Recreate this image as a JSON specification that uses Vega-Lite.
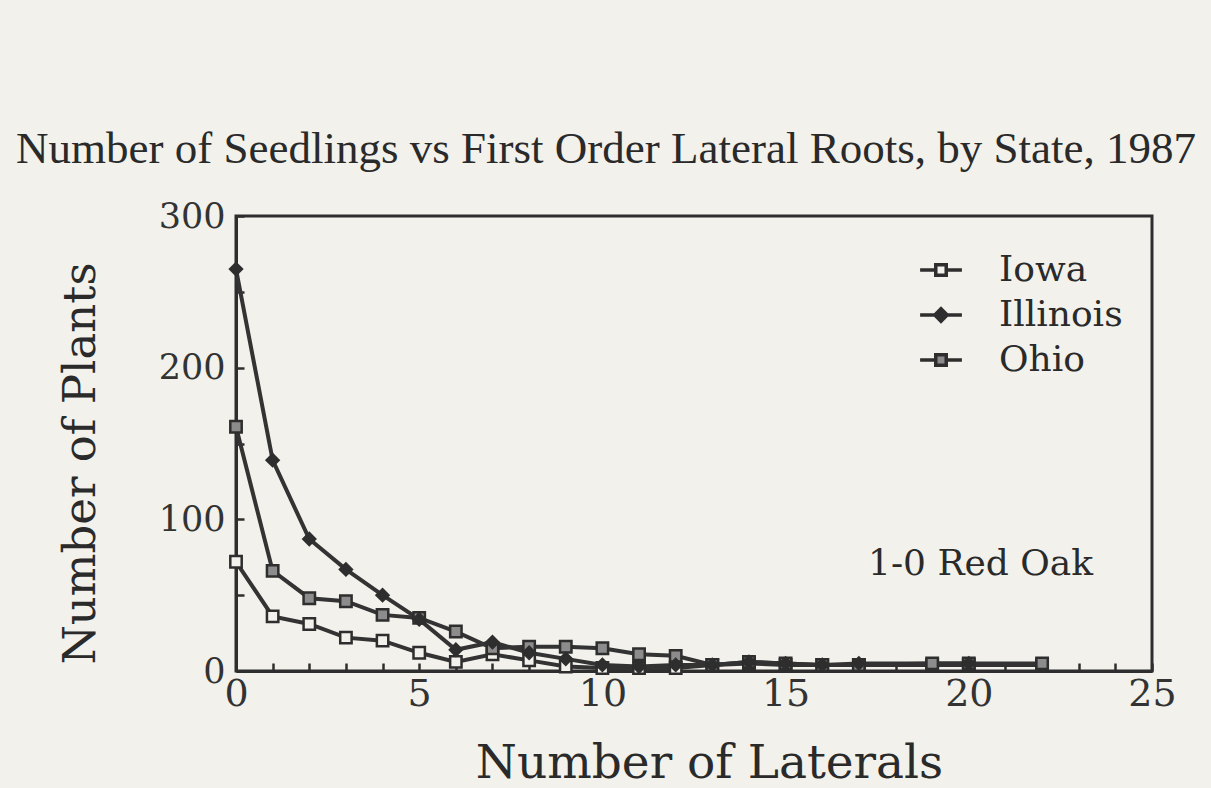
{
  "$schema": "https://vega.github.io/schema/vega-lite/v6.json",
  "autosize": {"type": "none"},
  "padding": {"left": 236, "top": 216, "right": 59, "bottom": 117},
  "width": 916,
  "height": 455,
  "background": "#f2f1ec",
  "title": {
    "text": "Number of Seedlings vs First Order Lateral Roots, by State, 1987",
    "font": "Liberation Serif",
    "fontSize": 45,
    "fontWeight": "normal",
    "color": "#2a2a2a",
    "anchor": "middle",
    "frame": "group",
    "dx": -88,
    "offset": 27
  },
  "config": {
    "view": {"stroke": "#2e2e2e", "strokeWidth": 3},
    "axis": {
      "grid": false,
      "domainColor": "#2e2e2e",
      "domainWidth": 3,
      "tickColor": "#2e2e2e",
      "tickWidth": 2.5,
      "tickSize": -8,
      "labelFont": "DejaVu Serif",
      "labelColor": "#333333",
      "titleFont": "DejaVu Serif",
      "titleFontWeight": "normal",
      "titleColor": "#2a2a2a"
    }
  },
  "datasets": {
    "roots": [
      {"state": "Iowa", "laterals": 0, "plants": 72},
      {"state": "Iowa", "laterals": 1, "plants": 36},
      {"state": "Iowa", "laterals": 2, "plants": 31},
      {"state": "Iowa", "laterals": 3, "plants": 22},
      {"state": "Iowa", "laterals": 4, "plants": 20},
      {"state": "Iowa", "laterals": 5, "plants": 12},
      {"state": "Iowa", "laterals": 6, "plants": 6},
      {"state": "Iowa", "laterals": 7, "plants": 11},
      {"state": "Iowa", "laterals": 8, "plants": 7},
      {"state": "Iowa", "laterals": 9, "plants": 3},
      {"state": "Iowa", "laterals": 10, "plants": 2},
      {"state": "Iowa", "laterals": 11, "plants": 2},
      {"state": "Iowa", "laterals": 12, "plants": 2},
      {"state": "Iowa", "laterals": 13, "plants": 4},
      {"state": "Iowa", "laterals": 14, "plants": 5},
      {"state": "Iowa", "laterals": 15, "plants": 4},
      {"state": "Iowa", "laterals": 16, "plants": 4},
      {"state": "Iowa", "laterals": 17, "plants": 4},
      {"state": "Iowa", "laterals": 19, "plants": 4},
      {"state": "Iowa", "laterals": 20, "plants": 4},
      {"state": "Iowa", "laterals": 22, "plants": 4},
      {"state": "Illinois", "laterals": 0, "plants": 265},
      {"state": "Illinois", "laterals": 1, "plants": 139},
      {"state": "Illinois", "laterals": 2, "plants": 87},
      {"state": "Illinois", "laterals": 3, "plants": 67},
      {"state": "Illinois", "laterals": 4, "plants": 50},
      {"state": "Illinois", "laterals": 5, "plants": 34},
      {"state": "Illinois", "laterals": 6, "plants": 14},
      {"state": "Illinois", "laterals": 7, "plants": 19},
      {"state": "Illinois", "laterals": 8, "plants": 12},
      {"state": "Illinois", "laterals": 9, "plants": 8},
      {"state": "Illinois", "laterals": 10, "plants": 4},
      {"state": "Illinois", "laterals": 11, "plants": 3},
      {"state": "Illinois", "laterals": 12, "plants": 4},
      {"state": "Illinois", "laterals": 13, "plants": 4},
      {"state": "Illinois", "laterals": 14, "plants": 6},
      {"state": "Illinois", "laterals": 15, "plants": 5},
      {"state": "Illinois", "laterals": 16, "plants": 4},
      {"state": "Illinois", "laterals": 17, "plants": 5},
      {"state": "Illinois", "laterals": 20, "plants": 5},
      {"state": "Ohio", "laterals": 0, "plants": 161},
      {"state": "Ohio", "laterals": 1, "plants": 66},
      {"state": "Ohio", "laterals": 2, "plants": 48},
      {"state": "Ohio", "laterals": 3, "plants": 46},
      {"state": "Ohio", "laterals": 4, "plants": 37},
      {"state": "Ohio", "laterals": 5, "plants": 35},
      {"state": "Ohio", "laterals": 6, "plants": 26},
      {"state": "Ohio", "laterals": 7, "plants": 15},
      {"state": "Ohio", "laterals": 8, "plants": 16},
      {"state": "Ohio", "laterals": 9, "plants": 16},
      {"state": "Ohio", "laterals": 10, "plants": 15},
      {"state": "Ohio", "laterals": 11, "plants": 11},
      {"state": "Ohio", "laterals": 12, "plants": 10},
      {"state": "Ohio", "laterals": 13, "plants": 4},
      {"state": "Ohio", "laterals": 14, "plants": 6},
      {"state": "Ohio", "laterals": 15, "plants": 5},
      {"state": "Ohio", "laterals": 16, "plants": 4},
      {"state": "Ohio", "laterals": 17, "plants": 4},
      {"state": "Ohio", "laterals": 19, "plants": 5},
      {"state": "Ohio", "laterals": 20, "plants": 5},
      {"state": "Ohio", "laterals": 22, "plants": 5}
    ],
    "note": [
      {"laterals": 17.25, "plants": 63, "label": "1-0 Red Oak"}
    ]
  },
  "resolve": {"axis": {"x": "independent"}},
  "layer": [
    {
      "data": {"name": "roots"},
      "mark": {"type": "line", "color": "#333333", "strokeWidth": 4},
      "encoding": {
        "x": {
          "field": "laterals",
          "type": "quantitative",
          "scale": {"domain": [0, 25], "nice": false, "zero": false},
          "axis": {
            "orient": "bottom",
            "values": [0, 5, 10, 15, 20, 25],
            "labelFontSize": 38,
            "labelPadding": 12,
            "labelFlush": false,
            "labelOverlap": false,
            "title": "Number of Laterals",
            "titleFontSize": 47,
            "titleAnchor": "middle",
            "titleAlign": "center",
            "titleBaseline": "middle",
            "titleX": 473,
            "titleY": 92
          }
        },
        "y": {
          "field": "plants",
          "type": "quantitative",
          "scale": {"domain": [0, 300], "nice": false},
          "axis": {
            "values": [0, 50, 100, 150, 200, 250, 300],
            "labelExpr": "datum.value % 100 === 0 ? datum.label : ''",
            "labelFontSize": 35,
            "labelPadding": 19,
            "labelFlush": false,
            "labelOverlap": false,
            "title": "Number of Plants",
            "titleFontSize": 45,
            "titleAngle": -90,
            "titleAlign": "center",
            "titleBaseline": "middle",
            "titleX": -156,
            "titleY": 247
          }
        },
        "detail": {"field": "state"},
        "order": {"field": "laterals"}
      }
    },
    {
      "data": {"name": "roots"},
      "transform": [{"filter": "datum.state !== 'Illinois'"}],
      "mark": {"type": "point", "shape": "square", "filled": true, "stroke": "#2e2e2e", "strokeWidth": 2.5, "size": 130, "opacity": 1},
      "encoding": {
        "x": {
          "field": "laterals",
          "type": "quantitative",
          "axis": {
            "orient": "bottom",
            "values": [1, 2, 3, 4, 6, 7, 8, 9, 11, 12, 13, 14, 16, 17, 18, 19, 21, 22, 23, 24],
            "labels": false,
            "domain": false,
            "title": null
          }
        },
        "y": {"field": "plants", "type": "quantitative"},
        "fill": {
          "field": "state",
          "type": "nominal",
          "scale": {"domain": ["Iowa", "Illinois", "Ohio"], "range": ["#f2f1ec", "#2e2e2e", "#8c8c8c"]}
        }
      }
    },
    {
      "data": {"name": "roots"},
      "transform": [{"filter": "datum.state === 'Illinois'"}],
      "mark": {"type": "point", "shape": "diamond", "filled": true, "stroke": "#2e2e2e", "strokeWidth": 2.5, "size": 140, "opacity": 1},
      "encoding": {
        "x": {"field": "laterals", "type": "quantitative", "axis": null},
        "y": {"field": "plants", "type": "quantitative"},
        "fill": {"field": "state", "type": "nominal"}
      }
    },
    {
      "data": {"name": "roots"},
      "mark": {"type": "point", "filled": true, "opacity": 0},
      "encoding": {
        "x": {"field": "laterals", "type": "quantitative", "axis": null},
        "y": {"field": "plants", "type": "quantitative"},
        "stroke": {"value": "#2e2e2e"},
        "strokeWidth": {"value": 3.5},
        "shape": {
          "field": "state",
          "type": "nominal",
          "scale": {
            "domain": ["Iowa", "Illinois", "Ohio"],
            "range": [
              "M-2.2,0H-0.55M0.55,0H2.2M-0.55,-0.55H0.55V0.55H-0.55Z",
              "M-2.2,0H-0.65M0.65,0H2.2M-0.65,0L0,-0.65L0.65,0L0,0.65Z",
              "M-2.2,0H-0.55M0.55,0H2.2M-0.55,-0.55H0.55V0.55H-0.55Z"
            ]
          },
          "legend": {
            "orient": "none",
            "legendX": 687,
            "legendY": 36,
            "title": null,
            "padding": 0,
            "labelFont": "DejaVu Serif",
            "labelFontSize": 36,
            "labelColor": "#2a2a2a",
            "labelOffset": 40,
            "rowPadding": 9,
            "symbolSize": 361,
            "symbolStrokeWidth": 3.5,
            "symbolStrokeColor": "#2e2e2e",
            "symbolOpacity": 1
          }
        },
        "fill": {
          "field": "state",
          "type": "nominal",
          "legend": {
            "orient": "none",
            "legendX": 687,
            "legendY": 36,
            "title": null,
            "padding": 0,
            "labelFont": "DejaVu Serif",
            "labelFontSize": 36,
            "labelColor": "#2a2a2a",
            "labelOffset": 40,
            "rowPadding": 9,
            "symbolSize": 361,
            "symbolStrokeWidth": 3.5,
            "symbolStrokeColor": "#2e2e2e",
            "symbolOpacity": 1
          }
        }
      }
    },
    {
      "data": {"name": "note"},
      "mark": {"type": "text", "font": "DejaVu Serif", "fontSize": 36, "color": "#2a2a2a", "align": "left", "baseline": "alphabetic"},
      "encoding": {
        "x": {"field": "laterals", "type": "quantitative", "axis": null},
        "y": {"field": "plants", "type": "quantitative"},
        "text": {"field": "label"}
      }
    }
  ]
}
